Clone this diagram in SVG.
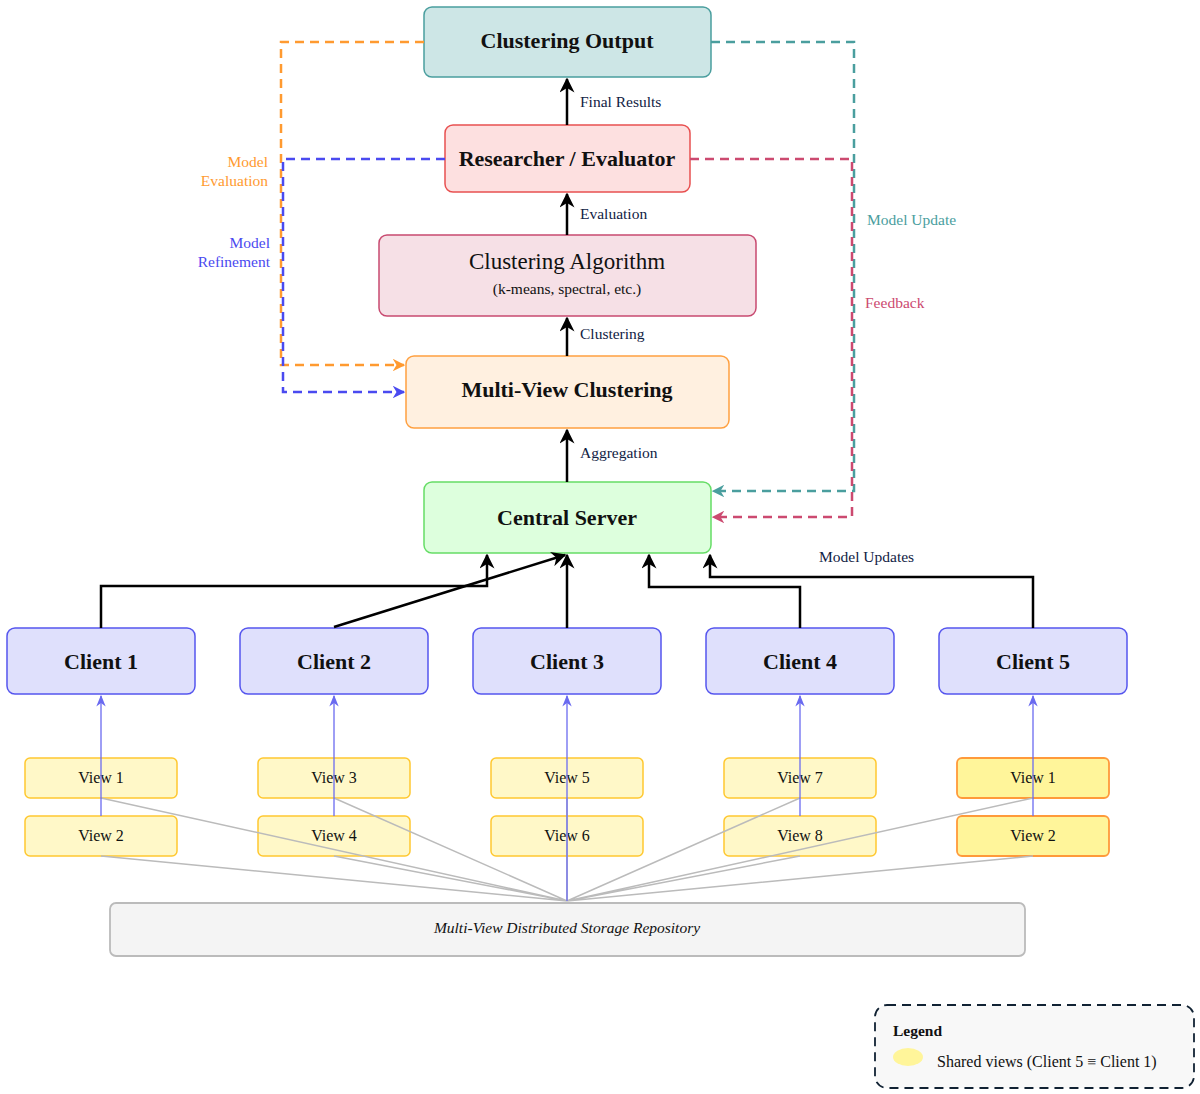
<svg xmlns="http://www.w3.org/2000/svg" width="1200" height="1094" viewBox="0 0 1200 1094">
<defs>
<style>
text{font-family:"Liberation Serif","DejaVu Serif",serif;fill:#111}
.t{font-size:22px;font-weight:bold;text-anchor:middle}
.c{font-size:22px;font-weight:bold;text-anchor:middle}
.v{font-size:16px;text-anchor:middle}
.lb{font-size:15.5px;fill:#124}
.blk{stroke:#000;stroke-width:2.5;fill:none;marker-end:url(#ab)}
.blu{stroke:#6a6af0;stroke-width:1.3;fill:none;marker-end:url(#au)}
.gry{stroke:#bbb;stroke-width:1.5;fill:none}
.d{stroke-width:2.5;fill:none;stroke-dasharray:9 6}
.view{fill:#fff8c8;stroke:#ffc830;stroke-width:1.5}
.sv{fill:#fff59a;stroke:#ff9a3a;stroke-width:1.8}
.cl{fill:#dfe0fc;stroke:#5555ee;stroke-width:1.5}
</style>
<marker id="ab" viewBox="0 0 10 10" refX="9" refY="5" markerWidth="6" markerHeight="6" orient="auto"><path d="M0,0 L10,5 L0,10 L3,5z" fill="#000"/></marker>
<marker id="au" viewBox="0 0 10 10" refX="9" refY="5" markerWidth="9" markerHeight="9" orient="auto"><path d="M0,1 L10,5 L0,9 L3,5z" fill="#6a6af0"/></marker>
<marker id="ao" viewBox="0 0 10 10" refX="9" refY="5" markerWidth="5" markerHeight="5" orient="auto"><path d="M0,0 L10,5 L0,10 L3,5z" fill="#ff9a30"/></marker>
<marker id="ae" viewBox="0 0 10 10" refX="9" refY="5" markerWidth="5" markerHeight="5" orient="auto"><path d="M0,0 L10,5 L0,10 L3,5z" fill="#4a4af0"/></marker>
<marker id="at" viewBox="0 0 10 10" refX="9" refY="5" markerWidth="5" markerHeight="5" orient="auto"><path d="M0,0 L10,5 L0,10 L3,5z" fill="#4a9e9e"/></marker>
<marker id="ap" viewBox="0 0 10 10" refX="9" refY="5" markerWidth="5" markerHeight="5" orient="auto"><path d="M0,0 L10,5 L0,10 L3,5z" fill="#cc4a70"/></marker>
</defs>
<rect width="1200" height="1094" fill="#fff"/>
<g id="output"><rect x="424" y="7" width="287" height="70" rx="8" fill="#cde6e6" stroke="#4a9e9e" stroke-width="1.5"/><text class="t" x="567" y="48">Clustering Output</text></g>
<g id="researcher"><rect x="445" y="125" width="245" height="67" rx="8" fill="#fde0e0" stroke="#e85050" stroke-width="1.5"/><text class="t" x="567" y="166">Researcher / Evaluator</text></g>
<g id="algorithm"><rect x="379" y="235" width="377" height="81" rx="8" fill="#f6e0e6" stroke="#c84a70" stroke-width="1.5"/><text x="567" y="269" text-anchor="middle" font-size="23">Clustering Algorithm</text><text x="567" y="294" text-anchor="middle" font-size="15.5">(k-means, spectral, etc.)</text></g>
<g id="mvc"><rect x="406" y="356" width="323" height="72" rx="8" fill="#fff0e0" stroke="#ffa040" stroke-width="1.5"/><text class="t" x="567" y="397">Multi-View Clustering</text></g>
<g id="server"><rect x="424" y="482" width="287" height="71" rx="8" fill="#ddffdd" stroke="#66dd66" stroke-width="1.5"/><text class="t" x="567" y="525">Central Server</text></g>
<g id="client1"><rect class="cl" x="7" y="628" width="188" height="66" rx="8"/><text class="c" x="101" y="669">Client 1</text></g>
<g id="client2"><rect class="cl" x="240" y="628" width="188" height="66" rx="8"/><text class="c" x="334" y="669">Client 2</text></g>
<g id="client3"><rect class="cl" x="473" y="628" width="188" height="66" rx="8"/><text class="c" x="567" y="669">Client 3</text></g>
<g id="client4"><rect class="cl" x="706" y="628" width="188" height="66" rx="8"/><text class="c" x="800" y="669">Client 4</text></g>
<g id="client5"><rect class="cl" x="939" y="628" width="188" height="66" rx="8"/><text class="c" x="1033" y="669">Client 5</text></g>
<g id="view1"><rect class="view" x="25" y="758" width="152" height="40" rx="5"/><text class="v" x="101" y="783">View 1</text></g>
<g id="view2"><rect class="view" x="25" y="816" width="152" height="40" rx="5"/><text class="v" x="101" y="841">View 2</text></g>
<g id="view3"><rect class="view" x="258" y="758" width="152" height="40" rx="5"/><text class="v" x="334" y="783">View 3</text></g>
<g id="view4"><rect class="view" x="258" y="816" width="152" height="40" rx="5"/><text class="v" x="334" y="841">View 4</text></g>
<g id="view5"><rect class="view" x="491" y="758" width="152" height="40" rx="5"/><text class="v" x="567" y="783">View 5</text></g>
<g id="view6"><rect class="view" x="491" y="816" width="152" height="40" rx="5"/><text class="v" x="567" y="841">View 6</text></g>
<g id="view7"><rect class="view" x="724" y="758" width="152" height="40" rx="5"/><text class="v" x="800" y="783">View 7</text></g>
<g id="view8"><rect class="view" x="724" y="816" width="152" height="40" rx="5"/><text class="v" x="800" y="841">View 8</text></g>
<g id="view1s"><rect class="sv" x="957" y="758" width="152" height="40" rx="5"/><text class="v" x="1033" y="783">View 1</text></g>
<g id="view2s"><rect class="sv" x="957" y="816" width="152" height="40" rx="5"/><text class="v" x="1033" y="841">View 2</text></g>
<g id="storage"><rect x="110" y="903" width="915" height="53" rx="6" fill="#f4f4f4" stroke="#bbb" stroke-width="1.8"/><text x="567" y="933" text-anchor="middle" font-size="15.5" font-style="italic">Multi-View Distributed Storage Repository</text></g>
<g id="legend"><rect x="875" y="1005" width="319" height="83" rx="12" fill="#f8f8f8" stroke="#123" stroke-width="1.8" stroke-dasharray="9 6"/><text x="893" y="1036" font-size="15.5" font-weight="bold">Legend</text><ellipse cx="908" cy="1057" rx="15" ry="9" fill="#fff59a"/><text x="937" y="1067" font-size="16">Shared views (Client 5 ≡ Client 1)</text></g>
<g id="connectors">
<path class="gry" d="M567,901 L101,798 M567,901 L101,856 M567,901 L334,798 M567,901 L334,856 M567,901 L567,798 M567,901 L567,856 M567,901 L800,798 M567,901 L800,856 M567,901 L1033,798 M567,901 L1033,856"/>
<path class="d" stroke="#ff9a30" marker-end="url(#ao)" d="M424,42 H281 V365 H404"/>
<path class="d" stroke="#4a4af0" marker-end="url(#ae)" d="M445,159 H283 V392 H404"/>
<path class="d" stroke="#4a9e9e" marker-end="url(#at)" d="M711,42 H854 V491 H713"/>
<path class="d" stroke="#cc4a70" marker-end="url(#ap)" d="M690,159 H852 V517 H713"/>
<path class="blk" d="M567,125 V79"/>
<path class="blk" d="M567,235 V194"/>
<path class="blk" d="M567,356 V318"/>
<path class="blk" d="M567,482 V430"/>
<path class="blk" d="M101,628 V586 H487 V555"/>
<path class="blk" d="M334,627 L565,555"/>
<path class="blk" d="M567,628 V555"/>
<path class="blk" d="M800,628 V587 H649 V555"/>
<path class="blk" d="M1033,628 V577 H710 V555"/>
<path class="blu" d="M101,816 V696"/>
<path class="blu" d="M334,816 V696"/>
<path class="blu" d="M567,901 V696"/>
<path class="blu" d="M800,816 V696"/>
<path class="blu" d="M1033,816 V696"/>
<text class="lb" x="580" y="107">Final Results</text>
<text class="lb" x="580" y="219">Evaluation</text>
<text class="lb" x="580" y="339">Clustering</text>
<text class="lb" x="580" y="458">Aggregation</text>
<text class="lb" x="819" y="562">Model Updates</text>
<text class="lb" x="268" y="167" text-anchor="end" style="fill:#ff9a30">Model</text>
<text class="lb" x="268" y="186" text-anchor="end" style="fill:#ff9a30">Evaluation</text>
<text class="lb" x="270" y="248" text-anchor="end" style="fill:#4a4af0">Model</text>
<text class="lb" x="270" y="267" text-anchor="end" style="fill:#4a4af0">Refinement</text>
<text class="lb" x="867" y="225" style="fill:#4a9e9e">Model Update</text>
<text class="lb" x="865" y="308" style="fill:#cc4a70">Feedback</text>
</g>
</svg>
